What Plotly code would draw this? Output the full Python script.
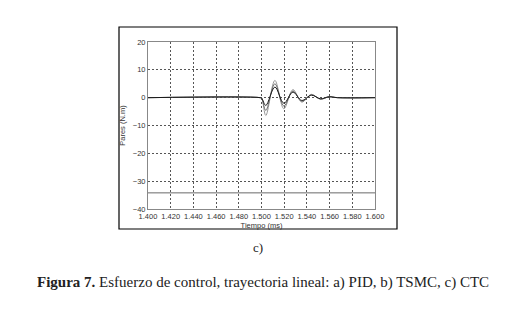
import plotly.graph_objects as go

# time samples (ms axis as labeled)
t = [1.400, 1.499, 1.5002, 1.5038, 1.5118, 1.5197, 1.5277, 1.5355, 1.5440, 1.5520, 1.5595, 1.5670, 1.600]
pid = [0, 0, -0.2, -6.4, 6.2, -4.0, 2.9, -1.6, 1.2, -0.6, 0.4, 0, 0]
tsmc = [0, 0, -0.2, -4.6, 5.0, -3.0, 2.4, -1.3, 1.0, -0.5, 0.3, 0, 0]
ctc = [0, 0, -0.2, -2.8, 3.8, -2.0, 2.0, -1.0, 0.9, -0.4, 0.3, 0, 0]
ref_x = [1.400, 1.600]
ref_y = [-34.2, -34.2]

x_ticks = [1.400, 1.420, 1.440, 1.460, 1.480, 1.500, 1.520, 1.540, 1.560, 1.580, 1.600]
x_labels = ["1.400", "1.420", "1.440", "1.460", "1.480", "1.500", "1.520", "1.540", "1.560", "1.580", "1.600"]
y_ticks = [-40, -30, -20, -10, 0, 10, 20]

fig = go.Figure()
fig.add_trace(go.Scatter(x=ref_x, y=ref_y, mode="lines", line=dict(color="#6a6a6a", width=1), hoverinfo="skip"))
fig.add_trace(go.Scatter(x=t, y=pid, mode="lines", line=dict(color="#9a9a9a", width=1, shape="spline", smoothing=1.0)))
fig.add_trace(go.Scatter(x=t, y=tsmc, mode="lines", line=dict(color="#6e6e6e", width=1, shape="spline", smoothing=1.0)))
fig.add_trace(go.Scatter(x=t, y=ctc, mode="lines", line=dict(color="#1a1a1a", width=1, shape="spline", smoothing=1.0)))

tick_font = dict(family="Liberation Sans, Arial", size=7.5, color="#333333")

fig.update_layout(
    width=510, height=312,
    margin=dict(l=148, r=135, t=42, b=103, autoexpand=False),
    paper_bgcolor="white", plot_bgcolor="white",
    showlegend=False,
    xaxis=dict(range=[1.400, 1.600], tickvals=x_ticks, ticktext=x_labels, automargin=False,
               showgrid=True, gridcolor="#555555", griddash="2px,2px", gridwidth=0.7,
               showline=True, linecolor="#888888", linewidth=1, mirror=True,
               ticks="", tickfont=tick_font, zeroline=False,
               title=dict(text="Tiempo (ms)", font=dict(family="Liberation Sans, Arial", size=7.5, color="#333"), standoff=2)),
    yaxis=dict(range=[-40, 20], tickvals=y_ticks, automargin=False,
               showgrid=True, gridcolor="#555555", griddash="2px,2px", gridwidth=0.7,
               showline=True, linecolor="#888888", linewidth=1, mirror=True,
               ticks="", tickfont=tick_font, zeroline=False,
               title=dict(text="Pares (N.m)", font=dict(family="Liberation Sans, Arial", size=7.5, color="#333"), standoff=6)),
)

# outer figure frame
fig.add_shape(type="rect", xref="paper", yref="paper",
              x0=(119 - 148) / 227, x1=(397 - 148) / 227,
              y0=(209 - 229) / 167, y1=(209 - 27) / 167,
              line=dict(color="black", width=1.2), layer="below")

fig.add_annotation(text="c)", xref="paper", yref="paper", x=(258 - 148) / 227, y=(209 - 247) / 167,
                   xanchor="center", yanchor="middle",
                   showarrow=False, font=dict(family="Liberation Serif, serif", size=13, color="#222"))
fig.add_annotation(text="<b>Figura 7.</b> Esfuerzo de control, trayectoria lineal: a) PID, b) TSMC, c) CTC",
                   xref="paper", yref="paper", x=(263 - 148) / 227, y=(209 - 282) / 167,
                   xanchor="center", yanchor="middle",
                   showarrow=False, font=dict(family="Liberation Serif, serif", size=15, color="#222"))

fig.write_html("out.html", config={"displayModeBar": False},
               post_script="document.body.style.margin='0';document.body.style.overflow='hidden';")
